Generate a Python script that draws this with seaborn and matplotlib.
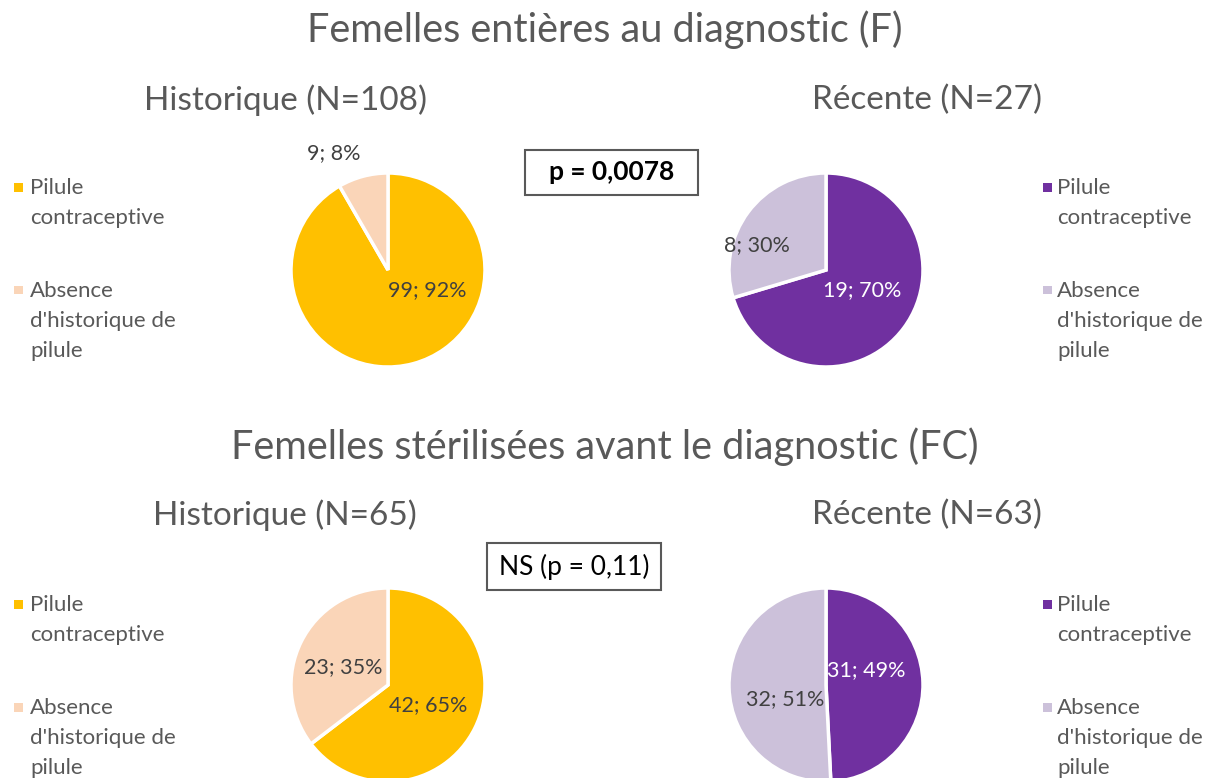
import matplotlib
matplotlib.use("Agg")
import matplotlib.pyplot as plt
from matplotlib.patches import Rectangle
import seaborn as sns

# ---- data ----
categories = ["Pilule contraceptive", "Absence d'historique de pilule"]
legend_labels = ["Pilule\ncontraceptive", "Absence\nd'historique de\npilule"]
f_hist = [99, 9]
f_rec = [19, 8]
fc_hist = [42, 23]
fc_rec = [31, 32]
pct_f_hist = [92, 8]
pct_f_rec = [70, 30]
pct_fc_hist = [65, 35]
pct_fc_rec = [49, 51]
titles = ["Femelles entières au diagnostic (F)", "Femelles stérilisées avant le diagnostic (FC)"]
sub_titles = [["Historique (N=108)", "Récente (N=27)"], ["Historique (N=65)", "Récente (N=63)"]]
tests = ["p = 0,0078", "NS (p = 0,11)"]

sns.set_theme(style="white")
plt.rcParams['font.family'] = ['Lato', 'DejaVu Sans']

yellow_pal = sns.color_palette(["#FFC000", "#FAD5B8"])
purple_pal = sns.color_palette(["#7030A0", "#CCC1DA"])
GRAY = "#595959"
LABEL = "#404040"

W, H = 1211, 778
fig = plt.figure(figsize=(W / 100, H / 100), dpi=100)
fig.patch.set_facecolor("white")

def fx(x):
    return x / W

def fy(y):
    return 1 - y / H

R = 97

def draw_pie(cx, cy, vals, pcts, pal, label_pos, label_colors):
    ax = fig.add_axes([fx(cx - R), fy(cy + R), 2 * R / W, 2 * R / H])
    wedges, _ = ax.pie(vals, colors=pal, startangle=90, counterclock=False,
                       radius=1, wedgeprops=dict(edgecolor="white", linewidth=2.5))
    ax.set_xlim(-1, 1)
    ax.set_ylim(-1, 1)
    ax.set_aspect("equal")
    ax.axis("off")
    for v, p, (dx, dy), c in zip(vals, pcts, label_pos, label_colors):
        ax.text(dx, dy, f"{v}; {p}%", ha="center", va="center", fontsize=15.5,
                color=c, clip_on=False)
    return ax

draw_pie(388, 270, f_hist, pct_f_hist, yellow_pal,
         [(0.40, -0.21), (-0.56, 1.21)], [LABEL, LABEL])
draw_pie(826, 270, f_rec, pct_f_rec, purple_pal,
         [(0.37, -0.21), (-0.71, 0.26)], ["white", LABEL])
draw_pie(388, 685, fc_hist, pct_fc_hist, yellow_pal,
         [(0.41, -0.21), (-0.46, 0.18)], [LABEL, LABEL])
draw_pie(826, 685, fc_rec, pct_fc_rec, purple_pal,
         [(0.41, 0.15), (-0.42, -0.15)], ["white", LABEL])

# titles
fig.text(fx(605), fy(30), titles[0], ha="center", va="center", fontsize=28.5, color=GRAY)
fig.text(fx(605), fy(447), titles[1], ha="center", va="center", fontsize=28.5, color=GRAY)
fig.text(fx(285), fy(100), sub_titles[0][0], ha="center", va="center", fontsize=24, color=GRAY)
fig.text(fx(927), fy(100), sub_titles[0][1], ha="center", va="center", fontsize=24, color=GRAY)
fig.text(fx(285), fy(515), sub_titles[1][0], ha="center", va="center", fontsize=24, color=GRAY)
fig.text(fx(927), fy(515), sub_titles[1][1], ha="center", va="center", fontsize=24, color=GRAY)

# test boxes
def box(x0, y0, x1, y1, text, weight):
    fig.patches.append(Rectangle((fx(x0), fy(y1)), (x1 - x0) / W, (y1 - y0) / H,
                                 transform=fig.transFigure, facecolor="white",
                                 edgecolor="#595959", linewidth=1.5))
    fig.text(fx((x0 + x1) / 2), fy((y0 + y1) / 2), text, ha="center", va="center",
             fontsize=19, color="black", weight=weight)

box(525, 150, 698, 195, tests[0], "bold")
box(487, 543, 661, 590, tests[1], "normal")

# legends
def legend(xm, xt, y_first, pal):
    ys = [y_first, y_first + 103]
    for (lab, y, col) in zip(legend_labels, ys, pal):
        fig.patches.append(Rectangle((fx(xm), fy(y + 4.5)), 9 / W, 9 / H,
                                     transform=fig.transFigure, facecolor=col,
                                     edgecolor="none"))
        fig.text(fx(xt), fy(y - 9), lab, ha="left", va="top", fontsize=16,
                 color=GRAY, linespacing=1.61)

legend(14, 30, 187, yellow_pal)
legend(1043, 1057, 187, purple_pal)
legend(14, 30, 604, yellow_pal)
legend(1043, 1057, 604, purple_pal)

fig.savefig("out.png", dpi=100, facecolor="white")
